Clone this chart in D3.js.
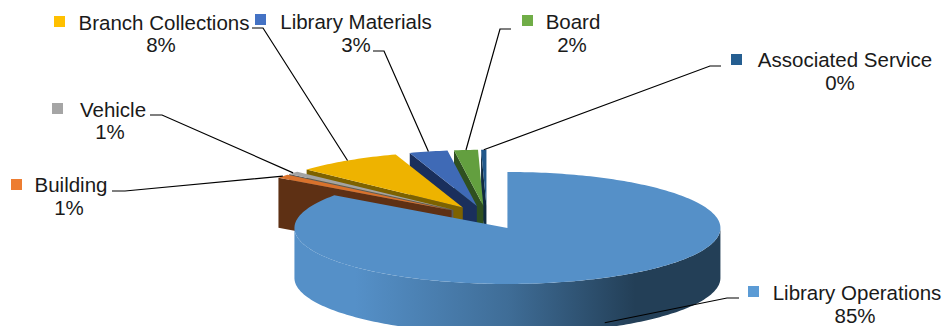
<!DOCTYPE html>
<html>
<head>
<meta charset="utf-8">
<script src="https://cdn.jsdelivr.net/npm/d3@7/dist/d3.min.js"></script>
<style>
html,body{margin:0;padding:0;background:#fff}
svg{display:block}
text{font-family:"Liberation Sans",Arial,sans-serif;fill:#1a1a1a}
</style>
</head>
<body>
<svg id="chart" width="946" height="326"></svg>
<script>
// Budget shares, in pie order, clockwise from twelve o'clock
const categories = ["Library Operations","Building","Vehicle","Branch Collections","Library Materials","Board","Associated Service"];
const shares = [84.9,1.1,0.9,8,2.9,1.8,0.4];
const legendColors = ["#5b9bd5","#ed7d31","#a5a5a5","#ffc000","#4472c4","#70ad47","#255e91"];
const topColors = ["#5590c8","#d9722c","#a3a3a3","#eeb300","#3f6ab6","#639f3f","#22588a"];
const wallColors = ["#233f57","#5e3014","#5a5a5a","#7d6200","#1a2f5c","#2f5020","#102a40"];

// Label placement: centres of both text lines, swatch box and leader elbow
const labelLayout = [
  {cx:857, cx2:855, y1:293, y2:316, sx:748, sy:286, elbow:[[739,298],[727,298]]},
  {cx:71,  cx2:69,  y1:185, y2:208, sx:11,  sy:179, elbow:[[112,191],[125,191]]},
  {cx:113, cx2:110, y1:110, y2:132, sx:52,  sy:103, elbow:[[150,115],[162,115]]},
  {cx:164, cx2:161, y1:23,  y2:45,  sx:54,  sy:16,  elbow:[[252,28],[263,28]]},
  {cx:356, cx2:356, y1:22,  y2:45,  sx:255, sy:14,  elbow:[[373,51],[384,51]]},
  {cx:573, cx2:572, y1:22,  y2:45,  sx:522, sy:15,  elbow:[[511,29],[500,29]]},
  {cx:845, cx2:840, y1:60,  y2:83,  sx:731, sy:54,  elbow:[[721,66],[710,66]]}
];

const svg = d3.select("#chart");
const center = {x:487, y:217.5};   // pie axis before slices are pulled apart
const rx = 213, ry = 56, depth = 50, explode = 0.21;

const percent = d3.format(".0%");
const total = d3.sum(shares);
const arcs = d3.pie().sort(null).value(d => d)(shares);

// Unit-circle coordinates are tilted onto the page with two linear scales
const sx = d3.scaleLinear().domain([-1,1]).range([-rx,rx]);
const sy = d3.scaleLinear().domain([-1,1]).range([-ry,ry]);
const rim = (c,a) => [c.x + sx(Math.sin(a)), c.y + sy(-Math.cos(a))];

const slices = arcs.map((d,i) => {
  const mid = (d.startAngle + d.endAngle) / 2;
  const apex = {
    x: center.x + explode * sx(Math.sin(mid)),
    y: center.y + explode * sy(-Math.cos(mid))
  };
  return {i, start:d.startAngle, end:d.endAngle, mid, apex};
});

function ellipseArc(path, c, a0, a1){
  const steps = Math.max(2, Math.ceil(Math.abs(a1 - a0) / 0.02));
  d3.range(steps + 1).forEach(k => {
    const p = rim(c, a0 + (a1 - a0) * k / steps);
    path.lineTo(p[0], p[1]);
  });
}

function topPath(s){
  const p = d3.path();
  p.moveTo(s.apex.x, s.apex.y);
  ellipseArc(p, s.apex, s.start, s.end);
  p.closePath();
  return p.toString();
}

// Wall under the leading cut edge of a slice
function cutPath(s){
  const e = rim(s.apex, s.start);
  const p = d3.path();
  p.moveTo(s.apex.x, s.apex.y);
  p.lineTo(e[0], e[1]);
  p.lineTo(e[0], e[1] + depth);
  p.lineTo(s.apex.x, s.apex.y + depth);
  p.closePath();
  return p.toString();
}

// Outer wall along the front half of the rim
function rimPath(s){
  const a0 = Math.max(s.start, Math.PI / 2), a1 = Math.min(s.end, Math.PI * 1.5);
  const p = d3.path();
  const first = rim(s.apex, a0);
  p.moveTo(first[0], first[1]);
  ellipseArc(p, s.apex, a0, a1);
  const c2 = {x:s.apex.x, y:s.apex.y + depth};
  ellipseArc(p, c2, a1, a0);
  p.closePath();
  return p.toString();
}

const defs = svg.append("defs");
const grad = defs.append("linearGradient").attr("id","wallShade")
  .attr("gradientUnits","userSpaceOnUse")
  .attr("x1",296).attr("x2",720).attr("y1",0).attr("y2",0);
[[0,"#5590c8"],[0.14,"#5590c8"],[0.5,"#3f6d97"],[0.8,"#233f57"],[1,"#233f57"]]
  .forEach(([o,c]) => grad.append("stop").attr("offset",o).attr("stop-color",c));

// Painted back to front: the small slices first, the large slice last
const order = [6,5,4,3,2,1,0];
const pie = svg.append("g");
order.forEach(i => {
  const s = slices[i];
  if (i === 0) {
    pie.append("path").attr("d",rimPath(s)).attr("fill","url(#wallShade)");
  } else {
    pie.append("path").attr("d",cutPath(s)).attr("fill",wallColors[i]);
  }
  pie.append("path").attr("d",topPath(s)).attr("fill",topColors[i]);
});

// Leader lines run from each slice's rim midpoint to its label
const leaders = svg.append("g").attr("fill","none").attr("stroke","#000").attr("stroke-width",1.2);
const line = d3.line();
slices.forEach(s => {
  const layout = labelLayout[s.i];
  let anchor = rim(s.apex, s.mid);
  if (s.i === 0) anchor = [anchor[0], anchor[1] + depth - 5];
  leaders.append("path").attr("d", line([...layout.elbow, anchor]));
});

const labels = svg.append("g").attr("font-size",20.5).attr("text-anchor","middle");
categories.forEach((name,i) => {
  const l = labelLayout[i];
  svg.append("rect").attr("x",l.sx).attr("y",l.sy).attr("width",11).attr("height",11)
    .attr("fill",legendColors[i]);
  labels.append("text").attr("x",l.cx).attr("y",l.y1).attr("dy","0.35em").text(name);
  labels.append("text").attr("x",l.cx2).attr("y",l.y2).attr("dy","0.35em")
    .text(percent(shares[i] / total));
});
</script>
</body>
</html>
